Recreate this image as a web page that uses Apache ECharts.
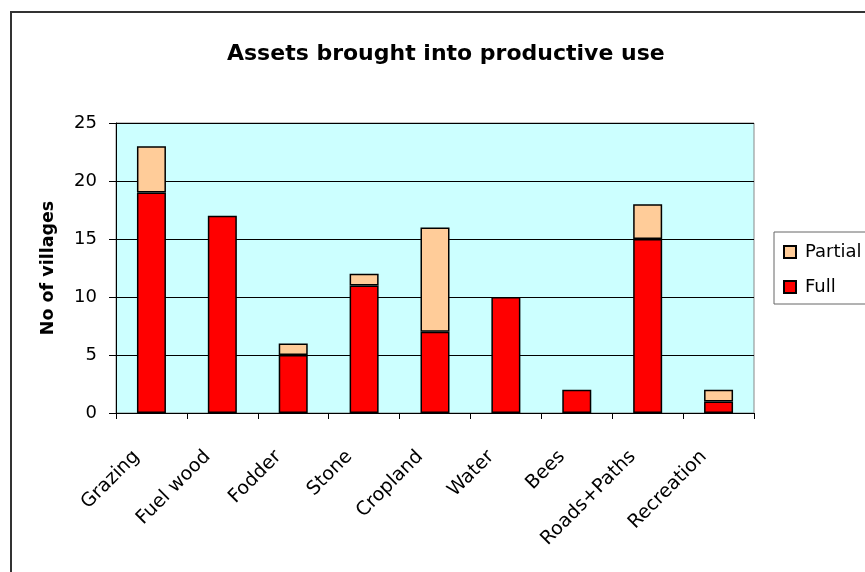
<!DOCTYPE html>
<html>
<head>
<meta charset="utf-8">
<script src="https://cdn.jsdelivr.net/npm/echarts@6/dist/echarts.min.js"></script>
<style>
html,body{margin:0;padding:0;background:#fff;}
#c{width:865px;height:572px;}
</style>
</head>
<body>
<div id="c"></div>
<script>
var categories = ['Grazing','Fuel wood','Fodder','Stone','Cropland','Water','Bees','Roads+Paths','Recreation'];
var fullValues = [19,17,5,11,7,10,2,15,1];
var partialValues = [4,0,1,1,9,0,0,3,1];
var yTicks = [0,5,10,15,20,25];

var chart = echarts.init(document.getElementById('c'));
var FONT = 'DejaVu Sans, Liberation Sans, Arial, sans-serif';
chart.setOption({
  animation:false,
  backgroundColor:'#ffffff',
  textStyle:{fontFamily:FONT},
  title:{
    text:'Assets brought into productive use',
    left:222, top:38,
    textStyle:{fontFamily:FONT,fontSize:22,fontWeight:'bold',color:'#000'}
  },
  graphic:[{
    type:'rect', silent:true,
    shape:{x:11,y:12,width:900,height:620},
    style:{fill:'none',stroke:'#333',lineWidth:2}
  }],
  legend:{
    orient:'vertical',
    left:774, top:232,
    data:['Partial','Full'],
    backgroundColor:'#fff',
    borderColor:'#666', borderWidth:1,
    padding:[11,40,8,9],
    itemGap:17,
    itemWidth:12, itemHeight:12,
    icon:'rect',
    textStyle:{fontFamily:FONT,fontSize:18,color:'#000',padding:[0,0,0,4]}
  },
  grid:{
    left:116, right:111, top:123, bottom:159,
    show:true, backgroundColor:'#CCFFFF', borderColor:'#888', borderWidth:1
  },
  xAxis:{
    type:'category',
    data:categories,
    axisLine:{lineStyle:{color:'#000',width:1}},
    axisTick:{show:true,length:6,lineStyle:{color:'#000'}},
    axisLabel:{rotate:45,fontSize:19,color:'#000',margin:26,padding:[0,21,0,0],fontFamily:FONT,interval:0}
  },
  yAxis:{
    type:'value',
    min:yTicks[0], max:yTicks[yTicks.length-1], interval:5,
    name:'No of villages',
    nameLocation:'middle', nameGap:59,
    nameTextStyle:{fontFamily:FONT,fontSize:17.5,fontWeight:'bold',color:'#000'},
    axisLine:{show:true,lineStyle:{color:'#000',width:1}},
    axisTick:{show:true,length:7,lineStyle:{color:'#000'}},
    axisLabel:{fontSize:18,color:'#000',margin:19,fontFamily:FONT},
    splitLine:{show:true,lineStyle:{color:'#000',width:1}}
  },
  series:[
    {
      name:'Full', type:'bar', stack:'a', barWidth:29,
      data:fullValues,
      itemStyle:{color:'#FF0000',borderColor:'#000',borderWidth:1.5}
    },
    {
      name:'Partial', type:'bar', stack:'a', barWidth:29,
      data:partialValues.map(function(v){return v===0?null:v;}),
      itemStyle:{color:'#FFCC99',borderColor:'#000',borderWidth:1.5}
    }
  ]
});
</script>
</body>
</html>
